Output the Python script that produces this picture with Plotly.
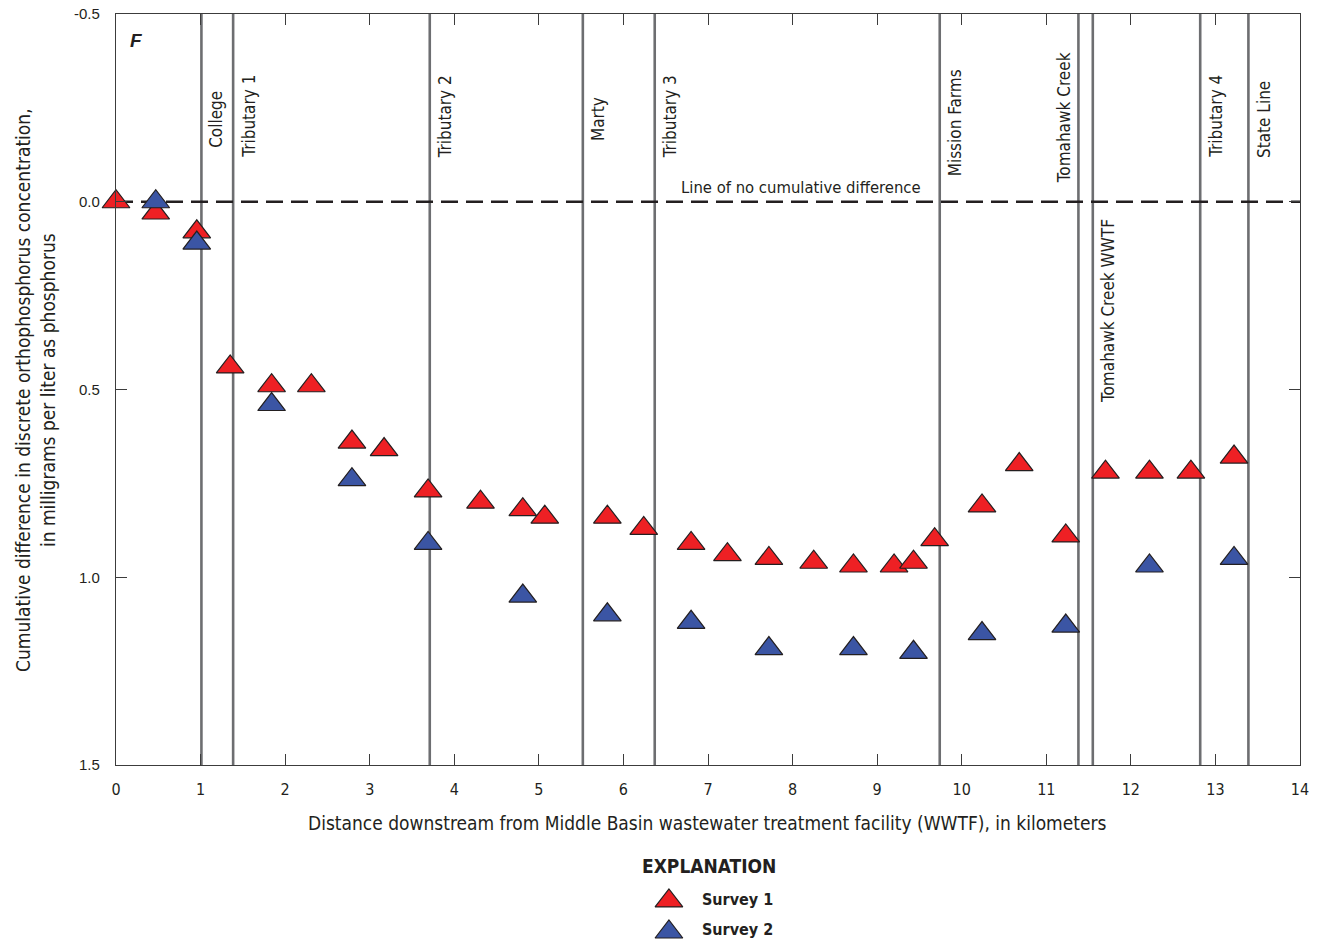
import plotly.graph_objects as go

# Survey 1: distance downstream (km) and cumulative difference (mg/L as P)
survey1_km = [0.0, 0.47, 0.955, 1.35, 1.84, 2.31, 2.79, 3.17, 3.69, 4.31, 4.81, 5.07,
              5.81, 6.24, 6.80, 7.23, 7.72, 8.25, 8.72, 9.20, 9.43, 9.68, 10.24, 10.68,
              11.23, 11.70, 12.22, 12.71, 13.22]
survey1_diff = [0.0, 0.03, 0.08, 0.44, 0.49, 0.49, 0.64, 0.66, 0.77, 0.80, 0.82, 0.84,
                0.84, 0.87, 0.91, 0.94, 0.95, 0.96, 0.97, 0.97, 0.96, 0.90, 0.81, 0.70,
                0.89, 0.72, 0.72, 0.72, 0.68]

# Survey 2
survey2_km = [0.47, 0.955, 1.84, 2.79, 3.69, 4.81, 5.81, 6.80, 7.72, 8.72, 9.43, 10.24,
              11.23, 12.22, 13.22]
survey2_diff = [0.0, 0.11, 0.54, 0.74, 0.91, 1.05, 1.10, 1.12, 1.19, 1.19, 1.20, 1.15,
                1.13, 0.97, 0.95]

# Inflow / landmark sites along the stream
site_names = ["College", "Tributary 1", "Tributary 2", "Marty", "Tributary 3",
              "Mission Farms", "Tomahawk Creek", "Tomahawk Creek WWTF", "Tributary 4",
              "State Line"]
site_km = [1.01, 1.385, 3.71, 5.52, 6.37, 9.74, 11.38, 11.55, 12.82, 13.39]

x_ticks = list(range(0, 15))
y_ticks = [-0.5, 0.0, 0.5, 1.0, 1.5]
y_tick_text = ["-0.5", "0.0", "0.5", "1.0", "1.5"]

# placement of each rotated site label: (y value, vertical anchor, side of line)
label_place = [(-0.138, "bottom", "right"), (-0.111, "bottom", "right"),
               (-0.111, "bottom", "right"), (-0.156, "bottom", "right"),
               (-0.111, "bottom", "right"), (-0.063, "bottom", "right"),
               (-0.044, "bottom", "left"), (0.041, "top", "right"),
               (-0.111, "bottom", "right"), (-0.111, "bottom", "right")]

NARROW = "DejaVu Sans Condensed, Liberation Sans Narrow, Arial Narrow, sans-serif"
INK = "#231F20"
RED = "#EE2024"
BLUE = "#3B55A4"
SITE_GRAY = "#6D6E71"

W, H = 1322, 942
ML, MR, MT, MB = 116, 22, 14, 0
plot_w = W - ML - MR
plot_h = H - MT - MB
y_dom_bottom = (H - 765) / plot_h


def px_x(px):
    return (px - ML) / plot_w


def px_y(py):
    return (H - py) / plot_h


fig = go.Figure()

marker_line = dict(color=INK, width=1.2)
fig.add_trace(go.Scatter(
    x=survey1_km, y=survey1_diff, mode="markers", name="Survey 1",
    marker=dict(symbol="triangle-up", size=24, color=RED, line=marker_line),
    showlegend=False, cliponaxis=False))
fig.add_trace(go.Scatter(
    x=survey2_km, y=survey2_diff, mode="markers", name="Survey 2",
    marker=dict(symbol="triangle-up", size=24, color=BLUE, line=marker_line),
    showlegend=False, cliponaxis=False))

# explanation keys on a hidden helper axis below the plot
fig.add_trace(go.Scatter(
    x=[0.467, 0.467], y=[0.232, 0.0565], mode="markers", xaxis="x2", yaxis="y2",
    marker=dict(symbol="triangle-up", size=24, color=[RED, BLUE], line=marker_line),
    showlegend=False, hoverinfo="skip", cliponaxis=False))

shapes = []
for km in site_km:
    shapes.append(dict(type="line", xref="x", yref="y domain", x0=km, x1=km, y0=0, y1=1,
                       line=dict(color=SITE_GRAY, width=2.6), layer="below"))
shapes.append(dict(type="line", xref="x", yref="y", x0=0, x1=14, y0=0, y1=0,
                   line=dict(color=INK, width=2.5, dash="17px,8px"), layer="below"))

annotations = []
for name, km, (yv, anchor, side) in zip(site_names, site_km, label_place):
    annotations.append(dict(
        x=km, y=yv, xref="x", yref="y", text=name, textangle=-90, showarrow=False,
        xanchor="left" if side == "right" else "right", yanchor=anchor,
        xshift=3 if side == "right" else -3,
        font=dict(family=NARROW, size=17, color=INK)))

annotations.append(dict(
    x=8.1, y=0, xref="x", yref="y", text="Line of no cumulative difference",
    showarrow=False, xanchor="center", yanchor="bottom", yshift=3,
    font=dict(family=NARROW, size=16.5, color=INK)))

annotations.append(dict(
    x=px_x(136), y=px_y(40), xref="paper", yref="paper", text="<b><i>F</i></b>",
    showarrow=False, xanchor="center", yanchor="middle",
    font=dict(family="Liberation Sans, Arial, sans-serif", size=19, color=INK)))

annotations.append(dict(
    x=px_x(35), y=px_y(390), xref="paper", yref="paper", textangle=-90,
    text="Cumulative difference in discrete orthophosphorus concentration,<br>"
         "in milligrams per liter as phosphorus",
    showarrow=False, xanchor="center", yanchor="middle",
    font=dict(family=NARROW, size=19, color=INK)))

annotations.append(dict(
    x=px_x(707), y=px_y(823), xref="paper", yref="paper",
    text="Distance downstream from Middle Basin wastewater treatment facility (WWTF), "
         "in kilometers",
    showarrow=False, xanchor="center", yanchor="middle",
    font=dict(family=NARROW, size=19, color=INK)))

annotations.append(dict(
    x=px_x(709), y=px_y(866), xref="paper", yref="paper", text="<b>EXPLANATION</b>",
    showarrow=False, xanchor="center", yanchor="middle",
    font=dict(family=NARROW, size=19, color=INK)))
for label, py in [("Survey 1", 899), ("Survey 2", 929)]:
    annotations.append(dict(
        x=px_x(700), y=px_y(py), xref="paper", yref="paper", text=f"<b>{label}</b>",
        showarrow=False, xanchor="left", yanchor="middle",
        font=dict(family=NARROW, size=16, color=INK)))

axis_common = dict(showline=True, linecolor="#3C3C3C", linewidth=1.2, mirror="ticks",
                   ticks="inside", ticklen=11, tickwidth=1.2, tickcolor="#3C3C3C",
                   showgrid=False, zeroline=False, automargin=False)

fig.update_layout(
    template="none",
    width=W, height=H, autosize=False,
    margin=dict(l=ML, r=MR, t=MT, b=MB, pad=0),
    paper_bgcolor="white", plot_bgcolor="white",
    shapes=shapes, annotations=annotations,
    xaxis=dict(range=[0, 14], tickvals=x_ticks, domain=[0, 1], anchor="y",
               tickfont=dict(family=NARROW, size=16, color=INK), ticklabelstandoff=10,
               **axis_common),
    yaxis=dict(range=[1.5, -0.5], tickvals=y_ticks, ticktext=y_tick_text,
               domain=[y_dom_bottom, 1], anchor="x",
               tickfont=dict(family="Liberation Sans, Arial, sans-serif", size=15,
                             color=INK), ticklabelstandoff=12,
               **axis_common),
    xaxis2=dict(range=[0, 1], domain=[0, 1], anchor="y2", visible=False,
                automargin=False),
    yaxis2=dict(range=[0, 1], domain=[0, y_dom_bottom], anchor="x2", visible=False,
                automargin=False),
    showlegend=False,
)

fig.write_html("out.html", config={"responsive": False})
